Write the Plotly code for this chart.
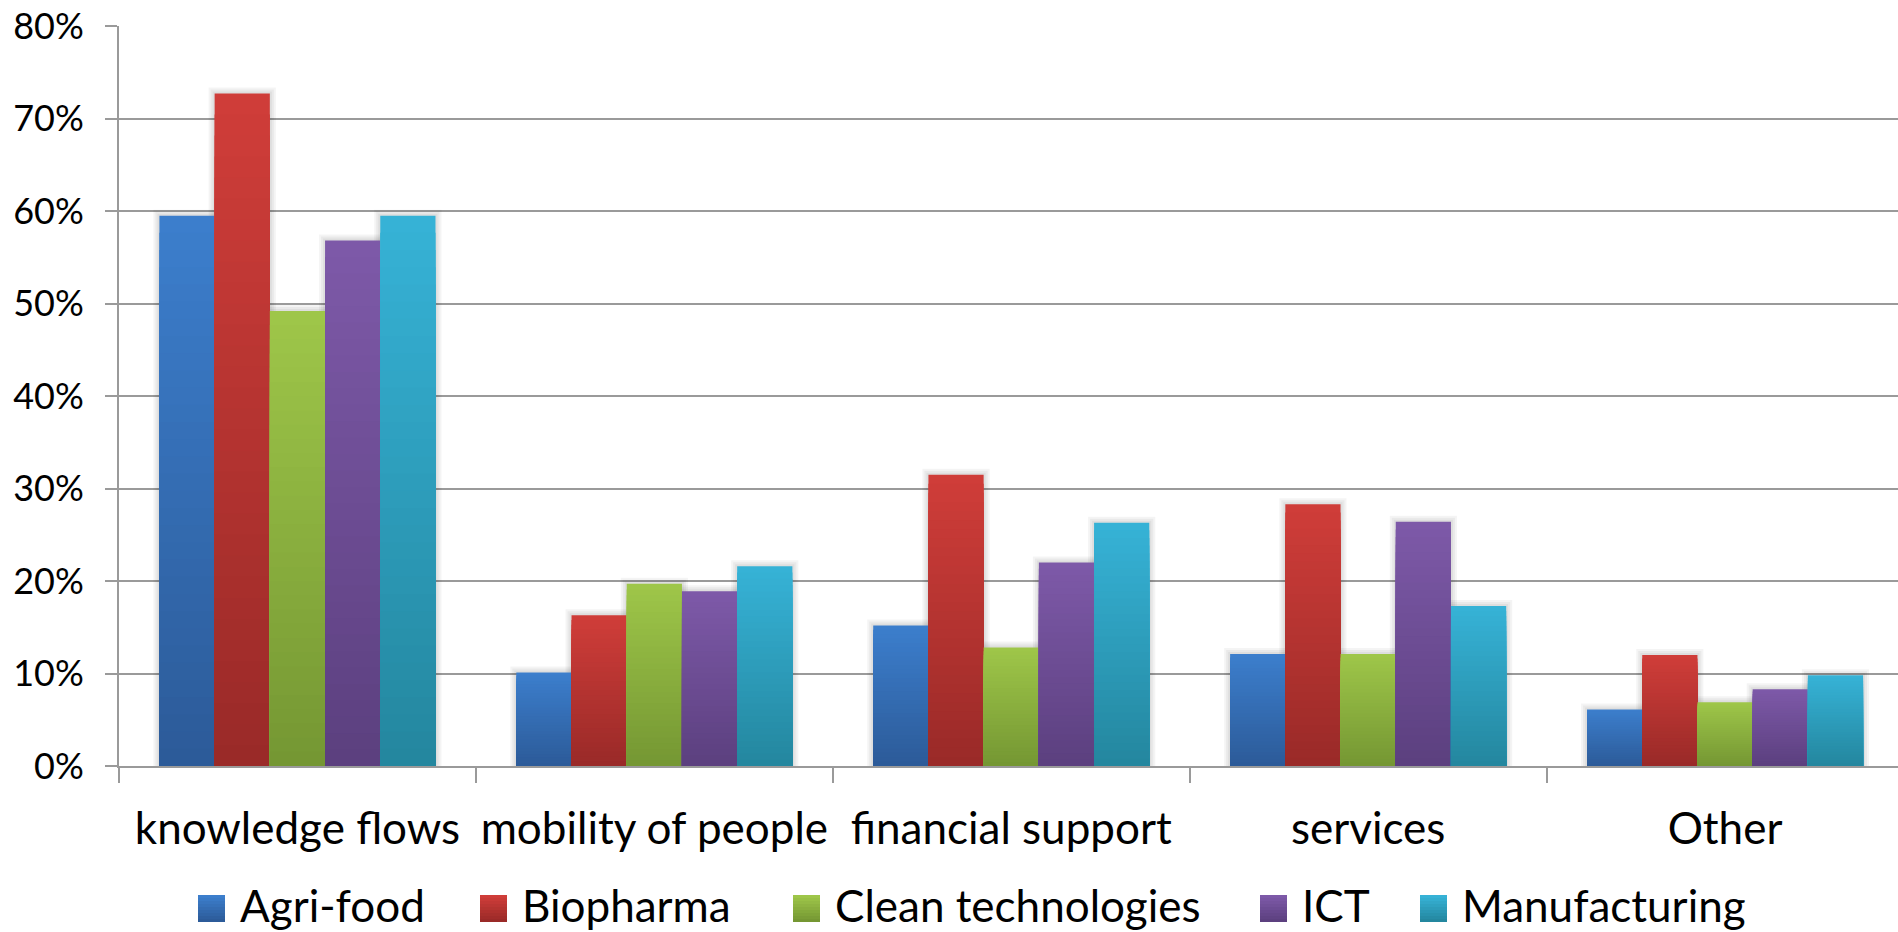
import plotly.graph_objects as go

# Share of firms citing each type of linkage, by sector (%)
categories = ["knowledge flows", "mobility of people", "financial support", "services", "Other"]
series_names = ["Agri-food", "Biopharma", "Clean technologies", "ICT", "Manufacturing"]
agri_food = [59.5, 10.1, 15.2, 12.1, 6.1]
biopharma = [72.7, 16.3, 31.5, 28.3, 12.0]
clean_tech = [49.2, 19.7, 12.8, 12.1, 6.9]
ict = [56.8, 18.9, 22.0, 26.4, 8.3]
manufacturing = [59.5, 21.6, 26.3, 17.3, 9.8]
y_ticks = [0, 10, 20, 30, 40, 50, 60, 70, 80]

series_values = [agri_food, biopharma, clean_tech, ict, manufacturing]

# Gradient end colours per series (top, bottom)
GRADIENTS = [
    ((60, 126, 204), (44, 91, 153)),
    ((207, 61, 57), (154, 42, 40)),
    ((158, 198, 73), (117, 151, 51)),
    ((125, 89, 168), (92, 64, 127)),
    ((54, 178, 214), (36, 135, 159)),
]

FONT = "Lato, 'Open Sans', sans-serif"
GRID = "#9a9a9a"
W, H = 1898, 932
ML, MR, MT, MB = 119, 0, 26, 166
N_STEPS = 32

plot_w = W - ML - MR
plot_h = H - MT - MB
CAT_PX = 356.9                      # pixel width of one category slot
Y_RANGE = [0, 80]
PX_PER_UNIT = plot_h / (Y_RANGE[1] - Y_RANGE[0])

BAR_W = 0.1547          # width of one bar in category units
GROUP_W = BAR_W * len(series_names)


def mix(c0, c1, t):
    return "rgb(%d,%d,%d)" % tuple(round(a + (b - a) * t) for a, b in zip(c0, c1))


fig = go.Figure()

# Soft drop shadow behind every bar: a few translucent, slightly larger copies
for spread in (6, 4, 2):
    dw = spread / CAT_PX
    dy = spread / PX_PER_UNIT
    for j, vals in enumerate(series_values):
        offset = -GROUP_W / 2 + j * BAR_W
        fig.add_trace(go.Bar(
            x=categories,
            y=[v + dy for v in vals],
            base=0,
            width=BAR_W + 2 * dw,
            offset=offset - dw,
            showlegend=False,
            marker=dict(color="rgba(0,0,0,0.045)", line=dict(width=0)),
            hoverinfo="skip",
        ))

# Each bar is overlaid with progressively shorter, darker copies to give a
# vertical light-to-dark gradient relative to its own height.
for j, (name, vals) in enumerate(zip(series_names, series_values)):
    top, bottom = GRADIENTS[j]
    offset = -GROUP_W / 2 + j * BAR_W
    for k in range(N_STEPS):
        frac = (N_STEPS - k) / N_STEPS
        fig.add_trace(go.Bar(
            x=categories,
            y=[v * frac for v in vals],
            base=0,
            width=BAR_W,
            offset=offset,
            name=name,
            legendgroup=name,
            showlegend=False,
            marker=dict(color=mix(top, bottom, k / (N_STEPS - 1)), line=dict(width=0)),
            hoverinfo="skip" if k else "y+name",
        ))

# Legend drawn as gradient squares with labels below the axis


def px_x(px):
    return (px - ML) / plot_w


def px_y(py):
    return (H - MB - py) / plot_h


legend_x = [198, 480, 793, 1260, 1420]
sq = 27
sq_top = 895
shapes = []
annotations = []
for j, name in enumerate(series_names):
    top, bottom = GRADIENTS[j]
    x0 = legend_x[j]
    steps = 9
    for k in range(steps):
        h = sq * (steps - k) / steps
        shapes.append(dict(
            type="rect", xref="paper", yref="paper",
            x0=px_x(x0), x1=px_x(x0 + sq),
            y0=px_y(sq_top + sq), y1=px_y(sq_top + sq - h),
            fillcolor=mix(top, bottom, k / (steps - 1)), line=dict(width=0), layer="above",
        ))
    annotations.append(dict(
        text=name, xref="paper", yref="paper",
        x=px_x(x0 + 40), y=px_y(sq_top + sq / 2 - 3),
        xanchor="left", yanchor="middle", showarrow=False,
        font=dict(family=FONT, size=44, color="#000000"),
    ))

fig.update_layout(
    width=W, height=H,
    margin=dict(l=ML, r=MR, t=MT, b=MB, pad=0, autoexpand=False),
    paper_bgcolor="white", plot_bgcolor="white",
    barmode="overlay",
    showlegend=False,
    shapes=shapes,
    annotations=annotations,
    font=dict(family=FONT, color="#000000"),
)

fig.update_xaxes(
    type="category",
    categoryorder="array", categoryarray=categories,
    range=[-0.5, -0.5 + plot_w / CAT_PX],
    showgrid=False, zeroline=False,
    showline=True, linecolor=GRID, linewidth=2,
    ticks="outside", tickson="boundaries", ticklen=15, tickwidth=2, tickcolor=GRID,
    tickfont=dict(family=FONT, size=44, color="#000000"),
    tickangle=0, automargin=False,
    ticklabelstandoff=23,
)

fig.update_yaxes(
    range=Y_RANGE,
    tickvals=y_ticks,
    ticktext=["%d%%" % t for t in y_ticks],
    showgrid=True, gridcolor=GRID, gridwidth=2,
    zeroline=False,
    showline=True, linecolor=GRID, linewidth=2,
    ticks="outside", ticklen=12, tickwidth=2, tickcolor=GRID,
    tickfont=dict(family=FONT, size=36, color="#000000"),
    automargin=False,
    ticklabelstandoff=14,
)

fig.write_html("out.html")
